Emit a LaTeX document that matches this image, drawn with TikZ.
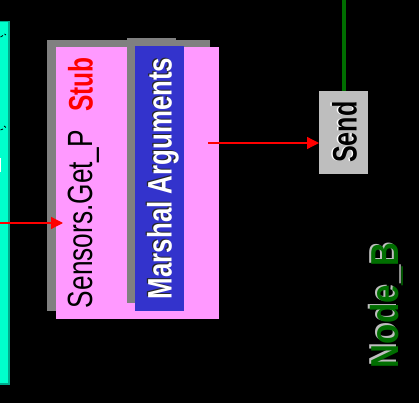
\documentclass[tikz,border=0pt]{standalone}
\usepackage{fontspec}
\setmainfont{Liberation Sans}
\usetikzlibrary{arrows.meta}
\definecolor{pinkbox}{RGB}{255,153,255}
\definecolor{marshalblue}{RGB}{51,51,204}
\definecolor{shadowgray}{RGB}{128,128,128}
\definecolor{sendgray}{RGB}{190,190,190}
\definecolor{aqua}{RGB}{0,255,204}
\definecolor{aquaedge}{RGB}{0,170,140}
\definecolor{nodegreen}{RGB}{0,110,0}
\tikzset{
  vlabel/.style={rotate=90, anchor=base west, inner sep=0pt, outer sep=0pt},
  call/.style={draw=red, line width=1.3pt, -{Triangle[length=12pt,width=12pt]}, red},
  shade/.style={fill=shadowgray, draw=none},
}
% rotated label text: size, horizontal squeeze, text
\newcommand{\vtxt}[3]{\fontsize{#1}{#1}\selectfont\scalebox{#2}[1]{#3}}
\begin{document}
\begin{tikzpicture}[x=1pt,y=-1pt]
  % canvas
  \fill[black] (0,0) rectangle (419,403);
  \useasboundingbox (0,0) rectangle (419,403);

  % partner partition on the left edge
  \fill[aquaedge] (0,21) rectangle (9.7,385);
  \fill[aqua] (0,22.3) rectangle (7.5,383);
  \draw[black, line width=0.8pt] (0.5,37) -- (3,35.5) (4.5,34) -- (6,35);
  \draw[black, line width=0.8pt] (0.5,130) -- (3,129) (4,126) -- (6,127.5);
  \fill[white] (0,158) rectangle (1.2,172);

  % stub box with its shadow
  \fill[shade] (47,40) rectangle (210,311);
  \node[fill=pinkbox, minimum width=163pt, minimum height=272pt, inner sep=0pt, anchor=north west] (stub) at (56,47) {};

  % marshal step with its shadow
  \fill[shade] (127,38) rectangle (176,303);
  \node[fill=marshalblue, minimum width=49pt, minimum height=265pt, inner sep=0pt, anchor=north west] (marshal) at (135,46) {};

  % send step
  \node[fill=sendgray, minimum width=49pt, minimum height=83pt, inner sep=0pt, anchor=north west] (send) at (319,91) {};

  % labels
  \node[vlabel, text=black] (stubname) at (92.5,308) {\vtxt{35}{0.75}{Sensors.Get\_P}};
  \node[vlabel, text=red] (stubtag) at (92.5,112) {\vtxt{34}{0.72}{\bfseries Stub}};
  \node[vlabel, text=black!85] at (170.3,298) {\vtxt{34}{0.76}{\bfseries Marshal Arguments}};
  \node[vlabel, text=white] (marshaltext) at (171.5,299) {\vtxt{34}{0.76}{\bfseries Marshal Arguments}};
  \node[vlabel, text=white] at (355,163) {\vtxt{34}{0.74}{\bfseries Send}};
  \node[vlabel, text=black] (sendtext) at (356.5,163) {\vtxt{34}{0.74}{\bfseries Send}};
  \node[vlabel, text=sendgray] at (396.8,366.8) {\vtxt{39}{0.85}{\bfseries Node\_B}};
  \node[vlabel, text=nodegreen] (nodeb) at (398.3,368) {\vtxt{39}{0.85}{\bfseries Node\_B}};

  % connectors
  \coordinate (incoming) at (0,223);
  \coordinate (marshalout) at (208,143);
  \coordinate (network) at (344,0);
  \draw[call] (incoming) -- ([xshift=7pt]stub.west |- incoming);
  \draw[call] (marshalout) -- (send.west |- marshalout);
  \draw[nodegreen, line width=4.5pt] (network) -- (send.north -| network);
\end{tikzpicture}
\end{document}
